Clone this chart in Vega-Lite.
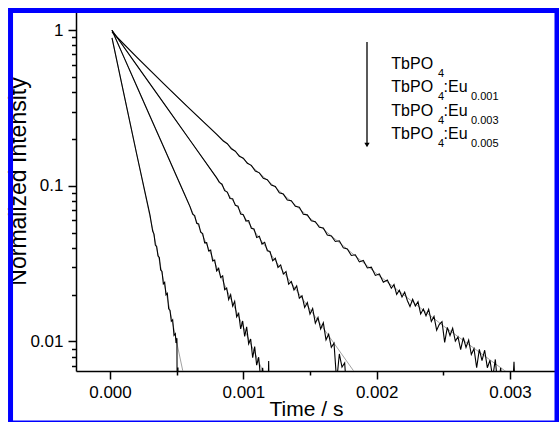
{
  "$schema": "https://vega.github.io/schema/vega-lite/v6.json",
  "width": 481,
  "height": 360,
  "autosize": "none",
  "padding": {"left": 76, "top": 11, "right": 2, "bottom": 51},
  "background": "white",
  "config": {
    "view": {"stroke": null},
    "font": "Liberation Sans",
    "axis": {
      "grid": false,
      "labelFont": "Liberation Sans",
      "labelFontSize": 17,
      "labelColor": "#000",
      "tickColor": "#000",
      "domainColor": "#000",
      "domainWidth": 1.5,
      "tickWidth": 1.5,
      "titleFont": "Liberation Sans",
      "titleFontWeight": "normal",
      "titleColor": "#000",
      "labelFlush": false,
      "labelOverlap": false
    }
  },
  "datasets": {
    "decay": [
      {"s":"Eu0.005","t":0.000015,"v":0.8933},{"s":"Eu0.005","t":0.0001,"v":0.4055},{"s":"Eu0.005","t":0.0002,"v":0.1603},{"s":"Eu0.005","t":0.0003,"v":0.06487},{"s":"Eu0.005","t":0.00031,"v":0.05754},{"s":"Eu0.005","t":0.00032,"v":0.05129},{"s":"Eu0.005","t":0.00033,"v":0.04898},{"s":"Eu0.005","t":0.00034,"v":0.04169},{"s":"Eu0.005","t":0.00035,"v":0.04074},{"s":"Eu0.005","t":0.00036,"v":0.03548},{"s":"Eu0.005","t":0.00037,"v":0.03467},{"s":"Eu0.005","t":0.00038,"v":0.02884},{"s":"Eu0.005","t":0.00039,"v":0.02818},{"s":"Eu0.005","t":0.0004,"v":0.02344},{"s":"Eu0.005","t":0.00041,"v":0.02399},{"s":"Eu0.005","t":0.00042,"v":0.01995},{"s":"Eu0.005","t":0.00043,"v":0.02042},{"s":"Eu0.005","t":0.00044,"v":0.01622},{"s":"Eu0.005","t":0.00045,"v":0.01585},{"s":"Eu0.005","t":0.00046,"v":0.01349},{"s":"Eu0.005","t":0.00047,"v":0.0138},{"s":"Eu0.005","t":0.00048,"v":0.01096},{"s":"Eu0.005","t":0.00049,"v":0.01122},{"s":"Eu0.005","t":0.000495,"v":0.009772},{"s":"Eu0.005","t":0.000502,"v":0.0105},{"s":"Eu0.005","t":0.000505,"v":0.002},{"s":"Eu0.005","t":0.00051,"v":0.0068},{"s":"Eu0.005","t":0.000515,"v":0.002},
      {"s":"Eu0.003","t":0.000015,"v":1},{"s":"Eu0.003","t":0.0001,"v":0.6846},{"s":"Eu0.003","t":0.0002,"v":0.4382},{"s":"Eu0.003","t":0.0003,"v":0.2805},{"s":"Eu0.003","t":0.0004,"v":0.1796},{"s":"Eu0.003","t":0.0005,"v":0.115},{"s":"Eu0.003","t":0.00055,"v":0.09198},{"s":"Eu0.003","t":0.0006,"v":0.07362},{"s":"Eu0.003","t":0.00062,"v":0.06577},{"s":"Eu0.003","t":0.000635,"v":0.06442},{"s":"Eu0.003","t":0.00065,"v":0.05754},{"s":"Eu0.003","t":0.000665,"v":0.05702},{"s":"Eu0.003","t":0.00068,"v":0.05035},{"s":"Eu0.003","t":0.000695,"v":0.04932},{"s":"Eu0.003","t":0.00071,"v":0.04306},{"s":"Eu0.003","t":0.000725,"v":0.04316},{"s":"Eu0.003","t":0.00074,"v":0.03811},{"s":"Eu0.003","t":0.000755,"v":0.03864},{"s":"Eu0.003","t":0.00077,"v":0.03296},{"s":"Eu0.003","t":0.000785,"v":0.03342},{"s":"Eu0.003","t":0.0008,"v":0.02844},{"s":"Eu0.003","t":0.000815,"v":0.02951},{"s":"Eu0.003","t":0.00083,"v":0.02576},{"s":"Eu0.003","t":0.000845,"v":0.02642},{"s":"Eu0.003","t":0.00086,"v":0.02153},{"s":"Eu0.003","t":0.000875,"v":0.02208},{"s":"Eu0.003","t":0.00089,"v":0.01862},{"s":"Eu0.003","t":0.000905,"v":0.02},{"s":"Eu0.003","t":0.00092,"v":0.01687},{"s":"Eu0.003","t":0.000935,"v":0.01812},{"s":"Eu0.003","t":0.00095,"v":0.01442},{"s":"Eu0.003","t":0.000965,"v":0.01514},{"s":"Eu0.003","t":0.00098,"v":0.01205},{"s":"Eu0.003","t":0.000995,"v":0.01355},{"s":"Eu0.003","t":0.00101,"v":0.01079},{"s":"Eu0.003","t":0.001025,"v":0.01242},{"s":"Eu0.003","t":0.00104,"v":0.009661},{"s":"Eu0.003","t":0.001055,"v":0.01037},{"s":"Eu0.003","t":0.00107,"v":0.00787},{"s":"Eu0.003","t":0.001085,"v":0.009268},{"s":"Eu0.003","t":0.0011,"v":0.007047},{"s":"Eu0.003","t":0.001115,"v":0.007925},{"s":"Eu0.003","t":0.00113,"v":0.005754},{"s":"Eu0.003","t":0.001145,"v":0.006776},{"s":"Eu0.003","t":0.00116,"v":0.004808},{"s":"Eu0.003","t":0.001175,"v":0.005662},{"s":"Eu0.003","t":0.001185,"v":0.0045},{"s":"Eu0.003","t":0.00119,"v":0.0075},{"s":"Eu0.003","t":0.001195,"v":0.004},
      {"s":"Eu0.001","t":0.000015,"v":1},{"s":"Eu0.001","t":0.0002,"v":0.5978},{"s":"Eu0.001","t":0.0004,"v":0.3427},{"s":"Eu0.001","t":0.0006,"v":0.1965},{"s":"Eu0.001","t":0.0008,"v":0.1126},{"s":"Eu0.001","t":0.00082,"v":0.1054},{"s":"Eu0.001","t":0.00084,"v":0.1025},{"s":"Eu0.001","t":0.00086,"v":0.09312},{"s":"Eu0.001","t":0.00088,"v":0.0912},{"s":"Eu0.001","t":0.0009,"v":0.08299},{"s":"Eu0.001","t":0.00092,"v":0.08261},{"s":"Eu0.001","t":0.00094,"v":0.07499},{"s":"Eu0.001","t":0.00096,"v":0.07413},{"s":"Eu0.001","t":0.00098,"v":0.06592},{"s":"Eu0.001","t":0.001,"v":0.06532},{"s":"Eu0.001","t":0.00102,"v":0.05943},{"s":"Eu0.001","t":0.00104,"v":0.05985},{"s":"Eu0.001","t":0.00106,"v":0.05346},{"s":"Eu0.001","t":0.00108,"v":0.05285},{"s":"Eu0.001","t":0.0011,"v":0.04666},{"s":"Eu0.001","t":0.00112,"v":0.04753},{"s":"Eu0.001","t":0.00114,"v":0.04227},{"s":"Eu0.001","t":0.00116,"v":0.04335},{"s":"Eu0.001","t":0.00118,"v":0.03828},{"s":"Eu0.001","t":0.0012,"v":0.03793},{"s":"Eu0.001","t":0.00122,"v":0.03304},{"s":"Eu0.001","t":0.00124,"v":0.03428},{"s":"Eu0.001","t":0.00126,"v":0.02992},{"s":"Eu0.001","t":0.00128,"v":0.03104},{"s":"Eu0.001","t":0.0013,"v":0.02711},{"s":"Eu0.001","t":0.00132,"v":0.02812},{"s":"Eu0.001","t":0.00134,"v":0.02339},{"s":"Eu0.001","t":0.00136,"v":0.02427},{"s":"Eu0.001","t":0.00138,"v":0.02143},{"s":"Eu0.001","t":0.0014,"v":0.02275},{"s":"Eu0.001","t":0.00142,"v":0.01896},{"s":"Eu0.001","t":0.00144,"v":0.01968},{"s":"Eu0.001","t":0.00146,"v":0.01656},{"s":"Eu0.001","t":0.00148,"v":0.01778},{"s":"Eu0.001","t":0.0015,"v":0.015},{"s":"Eu0.001","t":0.00152,"v":0.0163},{"s":"Eu0.001","t":0.00154,"v":0.01312},{"s":"Eu0.001","t":0.00156,"v":0.01426},{"s":"Eu0.001","t":0.00158,"v":0.01202},{"s":"Eu0.001","t":0.0016,"v":0.01318},{"s":"Eu0.001","t":0.00162,"v":0.01025},{"s":"Eu0.001","t":0.00164,"v":0.01114},{"s":"Eu0.001","t":0.00166,"v":0.009183},{"s":"Eu0.001","t":0.00168,"v":0.00975},{"s":"Eu0.001","t":0.0017,"v":0.005559},{"s":"Eu0.001","t":0.00172,"v":0.008318},{"s":"Eu0.001","t":0.00174,"v":0.006855},{"s":"Eu0.001","t":0.00176,"v":0.007278},{"s":"Eu0.001","t":0.00178,"v":0.00415},{"s":"Eu0.001","t":0.0018,"v":0.006223},{"s":"Eu0.001","t":0.00182,"v":0.004169},{"s":"Eu0.001","t":0.00184,"v":0.005572},{"s":"Eu0.001","t":0.00186,"v":0.002958},
      {"s":"TbPO4","t":0.000015,"v":0.975},{"s":"TbPO4","t":0.0002,"v":0.6721},{"s":"TbPO4","t":0.0004,"v":0.4554},{"s":"TbPO4","t":0.0006,"v":0.3112},{"s":"TbPO4","t":0.0008,"v":0.2144},{"s":"TbPO4","t":0.00085,"v":0.1942},{"s":"TbPO4","t":0.00088,"v":0.1868},{"s":"TbPO4","t":0.00091,"v":0.1733},{"s":"TbPO4","t":0.00094,"v":0.1672},{"s":"TbPO4","t":0.00097,"v":0.1551},{"s":"TbPO4","t":0.001,"v":0.1507},{"s":"TbPO4","t":0.00103,"v":0.1398},{"s":"TbPO4","t":0.00106,"v":0.1356},{"s":"TbPO4","t":0.00109,"v":0.1247},{"s":"TbPO4","t":0.00112,"v":0.1213},{"s":"TbPO4","t":0.00115,"v":0.1119},{"s":"TbPO4","t":0.00118,"v":0.1095},{"s":"TbPO4","t":0.00121,"v":0.1013},{"s":"TbPO4","t":0.00124,"v":0.09904},{"s":"TbPO4","t":0.00127,"v":0.09039},{"s":"TbPO4","t":0.0013,"v":0.0886},{"s":"TbPO4","t":0.00133,"v":0.08122},{"s":"TbPO4","t":0.00136,"v":0.08039},{"s":"TbPO4","t":0.00139,"v":0.07391},{"s":"TbPO4","t":0.00142,"v":0.07285},{"s":"TbPO4","t":0.00145,"v":0.06578},{"s":"TbPO4","t":0.00148,"v":0.06516},{"s":"TbPO4","t":0.00151,"v":0.05967},{"s":"TbPO4","t":0.00154,"v":0.05884},{"s":"TbPO4","t":0.00157,"v":0.05416},{"s":"TbPO4","t":0.0016,"v":0.05368},{"s":"TbPO4","t":0.00163,"v":0.04831},{"s":"TbPO4","t":0.00166,"v":0.04766},{"s":"TbPO4","t":0.00169,"v":0.04392},{"s":"TbPO4","t":0.00172,"v":0.04436},{"s":"TbPO4","t":0.00175,"v":0.03995},{"s":"TbPO4","t":0.00178,"v":0.03927},{"s":"TbPO4","t":0.00181,"v":0.03571},{"s":"TbPO4","t":0.00184,"v":0.0361},{"s":"TbPO4","t":0.00187,"v":0.03247},{"s":"TbPO4","t":0.0019,"v":0.03321},{"s":"TbPO4","t":0.00193,"v":0.02967},{"s":"TbPO4","t":0.00196,"v":0.03002},{"s":"TbPO4","t":0.00199,"v":0.02658},{"s":"TbPO4","t":0.00202,"v":0.02715},{"s":"TbPO4","t":0.00205,"v":0.02405},{"s":"TbPO4","t":0.00208,"v":0.02486},{"s":"TbPO4","t":0.00211,"v":0.02198},{"s":"TbPO4","t":0.00213,"v":0.02324},{"s":"TbPO4","t":0.00215,"v":0.02008},{"s":"TbPO4","t":0.00217,"v":0.02134},{"s":"TbPO4","t":0.00219,"v":0.0193},{"s":"TbPO4","t":0.00221,"v":0.02075},{"s":"TbPO4","t":0.00223,"v":0.01835},{"s":"TbPO4","t":0.00225,"v":0.0168},{"s":"TbPO4","t":0.00227,"v":0.0187},{"s":"TbPO4","t":0.00229,"v":0.01692},{"s":"TbPO4","t":0.00231,"v":0.018},{"s":"TbPO4","t":0.00233,"v":0.01503},{"s":"TbPO4","t":0.00235,"v":0.01617},{"s":"TbPO4","t":0.00237,"v":0.01463},{"s":"TbPO4","t":0.00239,"v":0.01612},{"s":"TbPO4","t":0.00241,"v":0.01346},{"s":"TbPO4","t":0.00243,"v":0.01448},{"s":"TbPO4","t":0.00245,"v":0.01183},{"s":"TbPO4","t":0.00247,"v":0.01288},{"s":"TbPO4","t":0.00249,"v":0.01339},{"s":"TbPO4","t":0.00251,"v":0.009863},{"s":"TbPO4","t":0.00253,"v":0.01233},{"s":"TbPO4","t":0.00255,"v":0.01092},{"s":"TbPO4","t":0.00257,"v":0.01217},{"s":"TbPO4","t":0.00259,"v":0.01006},{"s":"TbPO4","t":0.00261,"v":0.01071},{"s":"TbPO4","t":0.00263,"v":0.008851},{"s":"TbPO4","t":0.00265,"v":0.01058},{"s":"TbPO4","t":0.00267,"v":0.009154},{"s":"TbPO4","t":0.00269,"v":0.01021},{"s":"TbPO4","t":0.00271,"v":0.00825},{"s":"TbPO4","t":0.00273,"v":0.00899},{"s":"TbPO4","t":0.00275,"v":0.006781},{"s":"TbPO4","t":0.00277,"v":0.008892},{"s":"TbPO4","t":0.00279,"v":0.007524},{"s":"TbPO4","t":0.00281,"v":0.008789},{"s":"TbPO4","t":0.00283,"v":0.006786},{"s":"TbPO4","t":0.00285,"v":0.007572},{"s":"TbPO4","t":0.00287,"v":0.005846},{"s":"TbPO4","t":0.00289,"v":0.007667},{"s":"TbPO4","t":0.00291,"v":0.004926},{"s":"TbPO4","t":0.00293,"v":0.006764},{"s":"TbPO4","t":0.00295,"v":0.00415},{"s":"TbPO4","t":0.00297,"v":0.005969},{"s":"TbPO4","t":0.00299,"v":0.003499},{"s":"TbPO4","t":0.00301,"v":0.003548},{"s":"TbPO4","t":0.00303,"v":0.007413},{"s":"TbPO4","t":0.00305,"v":0.002818}
    ],
    "fits": [
      {"s":"Eu0.005","t":0.000015,"v":0.8933},{"s":"Eu0.005","t":0.0006,"v":0.003921},
      {"s":"Eu0.003","t":0.000015,"v":1},{"s":"Eu0.003","t":0.00125,"v":0.004055},
      {"s":"Eu0.001","t":0.000015,"v":1},{"s":"Eu0.001","t":0.0019,"v":0.005284},
      {"s":"TbPO4","t":0.000015,"v":0.975},{"s":"TbPO4","t":0.0005,"v":0.3761},{"s":"TbPO4","t":0.001,"v":0.1489},{"s":"TbPO4","t":0.0015,"v":0.06209},{"s":"TbPO4","t":0.002,"v":0.02726},{"s":"TbPO4","t":0.0025,"v":0.0126},{"s":"TbPO4","t":0.003,"v":0.006136},{"s":"TbPO4","t":0.0032,"v":0.004666}
    ],
    "mainText": [
      {"txt":"TbPO","t":0.00211,"v":0.5639},
      {"txt":"TbPO","t":0.00211,"v":0.3995},{"txt":":Eu","t":0.002502,"v":0.3995},
      {"txt":"TbPO","t":0.00211,"v":0.2826},{"txt":":Eu","t":0.002502,"v":0.2826},
      {"txt":"TbPO","t":0.00211,"v":0.2001},{"txt":":Eu","t":0.002502,"v":0.2001}
    ],
    "subText": [
      {"txt":"4","t":0.00246,"v":0.5011},
      {"txt":"4","t":0.00246,"v":0.3549},{"txt":"0.001","t":0.0027075,"v":0.3549},
      {"txt":"4","t":0.00246,"v":0.2511},{"txt":"0.003","t":0.0027075,"v":0.2511},
      {"txt":"4","t":0.00246,"v":0.1778},{"txt":"0.005","t":0.0027075,"v":0.1778}
    ]
  },
  "layer": [
    {
      "data": {"name": "fits"},
      "mark": {"type": "line", "color": "#8a8a8a", "strokeWidth": 0.8, "clip": true},
      "encoding": {
        "x": {"field": "t", "type": "quantitative",
              "scale": {"type": "linear", "domain": [-0.000255, 0.0033525], "nice": false, "zero": false},
              "axis": {"orient": "bottom", "values": [0.0005, 0.0015, 0.0025], "tickSize": 4, "labels": false, "domain": false, "title": null}},
        "y": {"field": "v", "type": "quantitative",
              "scale": {"type": "log", "domain": [0.0064616, 1.3305], "nice": false},
              "axis": {"orient": "left", "values": [0.007, 0.008, 0.009, 0.02, 0.03, 0.04, 0.05, 0.06, 0.07, 0.08, 0.09, 0.2, 0.3, 0.4, 0.5, 0.6, 0.7, 0.8, 0.9], "tickSize": 4.5, "labels": false, "domain": false, "title": null}},
        "detail": {"field": "s"}
      }
    },
    {
      "data": {"name": "decay"},
      "mark": {"type": "line", "color": "#000000", "strokeWidth": 1.1, "clip": true},
      "encoding": {
        "x": {"field": "t", "type": "quantitative",
              "scale": {"type": "linear", "domain": [-0.000255, 0.0033525], "nice": false, "zero": false},
              "axis": {"orient": "bottom", "values": [0, 0.001, 0.002, 0.003], "format": ".3f", "tickSize": 8, "labelPadding": 5,
                       "title": "Time / s", "titleFontSize": 21, "titleX": 230, "titleY": 44, "titleBaseline": "alphabetic", "titleAlign": "center"}},
        "y": {"field": "v", "type": "quantitative",
              "scale": {"type": "log", "domain": [0.0064616, 1.3305], "nice": false},
              "axis": {"orient": "left", "values": [0.01, 0.1, 1], "format": "~g", "tickSize": 8, "labelPadding": 5,
                       "title": "Normalized Intensity", "titleFontSize": 23, "titleX": -51, "titleY": 170, "titleAngle": 270, "titleBaseline": "alphabetic", "titleAlign": "center"}},
        "detail": {"field": "s"}
      }
    },
    {
      "data": {"values": [{}]},
      "mark": {"type": "rule", "color": "#000000", "strokeWidth": 1.3},
      "encoding": {
        "x": {"datum": 0.0019275, "type": "quantitative", "scale": {"type": "linear", "domain": [-0.000255, 0.0033525], "nice": false, "zero": false}, "axis": null},
        "y": {"datum": 0.841, "type": "quantitative", "scale": {"type": "log", "domain": [0.0064616, 1.3305], "nice": false}, "axis": null},
        "y2": {"datum": 0.1859}
      }
    },
    {
      "data": {"values": [{}]},
      "mark": {"type": "point", "shape": "triangle-down", "filled": true, "color": "#000000", "size": 28, "opacity": 1},
      "encoding": {
        "x": {"datum": 0.0019275, "type": "quantitative", "scale": {"type": "linear", "domain": [-0.000255, 0.0033525], "nice": false, "zero": false}, "axis": null},
        "y": {"datum": 0.1831, "type": "quantitative", "scale": {"type": "log", "domain": [0.0064616, 1.3305], "nice": false}, "axis": null}
      }
    },
    {
      "data": {"name": "mainText"},
      "mark": {"type": "text", "align": "left", "baseline": "alphabetic", "font": "Liberation Sans", "fontSize": 16, "color": "#000000"},
      "encoding": {
        "x": {"field": "t", "type": "quantitative", "scale": {"type": "linear", "domain": [-0.000255, 0.0033525], "nice": false, "zero": false}, "axis": null},
        "y": {"field": "v", "type": "quantitative", "scale": {"type": "log", "domain": [0.0064616, 1.3305], "nice": false}, "axis": null},
        "text": {"field": "txt"}
      }
    },
    {
      "data": {"name": "subText"},
      "mark": {"type": "text", "align": "left", "baseline": "alphabetic", "font": "Liberation Sans", "fontSize": 11, "color": "#000000"},
      "encoding": {
        "x": {"field": "t", "type": "quantitative", "scale": {"type": "linear", "domain": [-0.000255, 0.0033525], "nice": false, "zero": false}, "axis": null},
        "y": {"field": "v", "type": "quantitative", "scale": {"type": "log", "domain": [0.0064616, 1.3305], "nice": false}, "axis": null},
        "text": {"field": "txt"}
      }
    },
    {
      "data": {"values": [{}]},
      "mark": {"type": "rect", "filled": false, "stroke": "#0000ff", "strokeWidth": 5, "clip": false},
      "encoding": {
        "x": {"datum": -0.000746, "type": "quantitative", "scale": {"type": "linear", "domain": [-0.000255, 0.0033525], "nice": false, "zero": false}, "axis": null},
        "x2": {"datum": 0.0033525},
        "y": {"datum": 1.3403, "type": "quantitative", "scale": {"type": "log", "domain": [0.0064616, 1.3305], "nice": false}, "axis": null},
        "y2": {"datum": 0.0029931}
      }
    }
  ],
  "resolve": {"axis": {"x": "independent", "y": "independent"}}
}
